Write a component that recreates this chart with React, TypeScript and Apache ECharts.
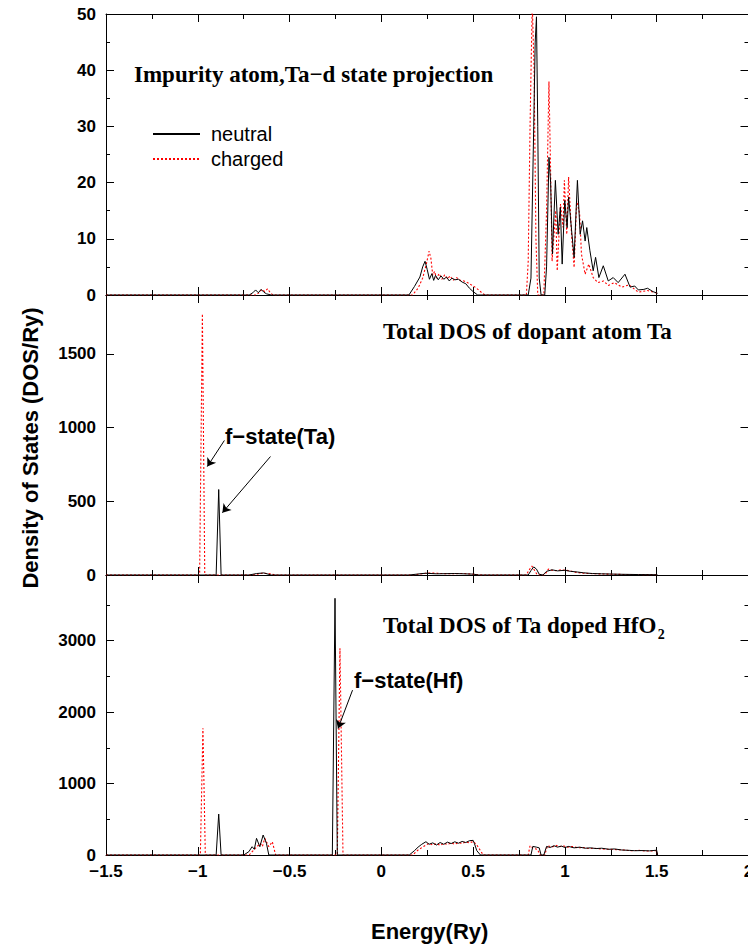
import React, { useEffect, useRef } from "react";
import * as echarts from "echarts";

// ---------- axis settings ----------
const energyMin = -1.5;
const energyMax = 2;
const energyInterval = 0.5;
const panelMax = [50, 1900, 3920];
const panelInterval = [10, 500, 1000];
const panelMinorSplit = [2, 0, 2];

// ---------- texts ----------
const panelTitles = ["Impurity atom,Ta\u2212d state projection", "Total DOS of dopant atom Ta", "Total DOS of Ta doped HfO"];
const titleSubscript = "2";
const seriesNames = ["neutral", "charged"];
const yTitle = "Density of States (DOS/Ry)";
const xTitle = "Energy(Ry)";

// ---------- data: panel 1, Ta-d projection ----------
const tadNeutral: [number, number][] = [
  [-1.5, 0], [-0.72, 0], [-0.7, 0.4], [-0.685, 0.9], [-0.67, 0.4], [-0.655, 1.0], [-0.64, 0.5], [-0.625, 0.2], [-0.6, 0],
  [0.15, 0], [0.18, 1.5], [0.21, 3.2], [0.225, 5.0], [0.238, 6.0], [0.25, 4.5], [0.262, 2.8], [0.275, 3.8], [0.285, 2.6],
  [0.295, 3.5], [0.31, 2.7], [0.325, 3.4], [0.34, 2.8], [0.355, 3.2], [0.37, 2.5], [0.385, 3.0], [0.4, 2.7], [0.42, 2.8],
  [0.44, 2.3], [0.46, 2.0], [0.48, 1.2], [0.5, 0.6], [0.525, 0],
  [0.8, 0], [0.815, 3], [0.83, 30], [0.838, 45], [0.845, 49.5], [0.852, 30], [0.86, 3], [0.87, 0], [0.89, 0], [0.9, 5],
  [0.913, 24.5], [0.922, 20], [0.932, 7.3], [0.948, 20.4], [0.963, 10.8], [0.975, 15.6], [0.985, 5.5], [0.999, 16.8],
  [1.012, 12], [1.02, 17.4], [1.036, 11.6], [1.05, 6.7], [1.068, 20.4], [1.083, 10.8], [1.096, 13.2], [1.11, 9.6],
  [1.119, 12], [1.136, 7.9], [1.154, 4.3], [1.167, 6.7], [1.185, 3.1], [1.209, 5.2], [1.236, 2.5], [1.263, 3.1],
  [1.29, 2.2], [1.327, 3.7], [1.355, 1.4], [1.38, 1.6], [1.4, 0.9], [1.43, 1.0], [1.45, 1.2], [1.48, 0.6], [1.505, 0.3],
];
const tadCharged: [number, number][] = [
  [-1.5, 0], [-0.68, 0], [-0.665, 0.5], [-0.65, 1.0], [-0.635, 0.6], [-0.62, 1.1], [-0.605, 0.4], [-0.59, 0],
  [0.17, 0], [0.2, 1.2], [0.225, 3.0], [0.245, 5.5], [0.26, 7.8], [0.27, 6.5], [0.28, 3.5], [0.29, 4.2], [0.3, 3.0],
  [0.315, 3.8], [0.33, 2.8], [0.345, 3.6], [0.36, 2.9], [0.375, 3.4], [0.39, 2.6], [0.41, 3.1], [0.43, 2.6], [0.45, 2.5],
  [0.47, 2.2], [0.49, 1.8], [0.51, 1.4], [0.53, 0.9], [0.55, 0.3], [0.565, 0],
  [0.79, 0], [0.8, 6], [0.81, 30], [0.822, 52], [0.832, 40], [0.842, 10], [0.852, 0], [0.885, 0], [0.9, 15], [0.913, 38],
  [0.922, 22], [0.93, 6], [0.95, 15], [0.958, 4.3], [0.976, 16.2], [0.99, 12], [0.997, 20.4], [1.01, 10.8], [1.02, 21],
  [1.036, 10.8], [1.05, 4.9], [1.064, 16.8], [1.08, 14.5], [1.09, 7.3], [1.11, 3.7], [1.13, 5.5], [1.154, 3.1],
  [1.18, 2.2], [1.21, 2.5], [1.236, 1.7], [1.27, 2.2], [1.31, 1.4], [1.35, 1.8], [1.4, 0.5], [1.45, 0.8], [1.505, 0.3],
];

// ---------- data: panel 2, total DOS of Ta ----------
const taNeutral: [number, number][] = [
  [-1.5, 0], [-0.9, 0], [-0.886, 580], [-0.873, 0], [-0.72, 0], [-0.68, 10], [-0.64, 14], [-0.6, 0],
  [0.15, 0], [0.24, 12], [0.3, 8], [0.4, 10], [0.5, 6], [0.53, 0],
  [0.8, 0], [0.815, 30], [0.83, 55], [0.845, 40], [0.86, 5], [0.88, 0], [0.9, 25], [0.93, 35], [0.96, 28], [1.0, 32],
  [1.03, 25], [1.07, 20], [1.1, 15], [1.15, 10], [1.2, 8], [1.3, 5], [1.4, 3], [1.5, 2], [1.505, 0],
];
const taCharged: [number, number][] = [
  [-1.5, 0], [-0.99, 0], [-0.975, 1772], [-0.962, 0], [-0.7, 0], [-0.65, 12], [-0.6, 8], [-0.58, 0],
  [0.17, 0], [0.26, 14], [0.35, 9], [0.45, 10], [0.55, 0],
  [0.79, 0], [0.805, 35], [0.82, 60], [0.835, 30], [0.85, 0], [0.89, 0], [0.91, 40], [0.94, 28], [0.98, 35], [1.02, 30],
  [1.06, 18], [1.1, 12], [1.2, 7], [1.3, 4], [1.4, 3], [1.5, 2], [1.505, 0],
];

// ---------- data: panel 3, total DOS of Ta doped HfO2 ----------
const hfNeutral: [number, number][] = [
  [-1.5, 0], [-0.9, 0], [-0.886, 573], [-0.873, 0], [-0.75, 0], [-0.722, 46], [-0.704, 116], [-0.692, 80], [-0.68, 233],
  [-0.662, 116], [-0.644, 280], [-0.626, 163], [-0.613, 0], [-0.267, 0], [-0.2525, 3594], [-0.24, 0],
  [0.152, 0], [0.18, 60], [0.2, 110], [0.22, 150], [0.243, 186], [0.26, 150], [0.28, 170], [0.3, 140], [0.32, 175],
  [0.34, 150], [0.36, 180], [0.38, 160], [0.4, 185], [0.42, 165], [0.44, 190], [0.46, 175], [0.48, 200], [0.5, 205],
  [0.507, 160], [0.52, 60], [0.54, 0],
  [0.815, 0], [0.825, 120], [0.845, 110], [0.86, 100], [0.87, 0], [0.885, 0], [0.9, 120], [0.92, 105], [0.94, 130],
  [0.96, 110], [0.98, 125], [1.0, 105], [1.02, 120], [1.05, 100], [1.08, 110], [1.11, 95], [1.14, 100], [1.17, 90],
  [1.2, 95], [1.24, 80], [1.27, 85], [1.31, 70], [1.35, 65], [1.38, 60], [1.42, 62], [1.46, 58], [1.5, 67], [1.505, 0],
];
const hfCharged: [number, number][] = [
  [-1.5, 0], [-0.986, 0], [-0.972, 1776], [-0.959, 0], [-0.72, 0], [-0.704, 46], [-0.68, 110], [-0.66, 163],
  [-0.648, 120], [-0.635, 233], [-0.613, 116], [-0.594, 186], [-0.576, 0], [-0.24, 0], [-0.2255, 2895], [-0.209, 0],
  [0.17, 0], [0.2, 70], [0.23, 120], [0.26, 165], [0.28, 140], [0.3, 160], [0.32, 135], [0.34, 165], [0.36, 145],
  [0.38, 170], [0.4, 150], [0.42, 175], [0.44, 160], [0.46, 185], [0.48, 170], [0.5, 190], [0.52, 140], [0.54, 60],
  [0.555, 0],
  [0.8, 0], [0.81, 130], [0.83, 90], [0.85, 80], [0.865, 0], [0.89, 0], [0.905, 130], [0.93, 110], [0.95, 135],
  [0.97, 115], [0.99, 130], [1.01, 110], [1.04, 120], [1.07, 100], [1.1, 105], [1.13, 90], [1.16, 95], [1.2, 85],
  [1.24, 80], [1.28, 75], [1.32, 70], [1.36, 60], [1.4, 65], [1.45, 55], [1.5, 60], [1.505, 0],
];

// ---------- annotation arrows (data coordinates: [start, end]) ----------
const taArrows: [number, number][][] = [
  [[-0.855, 913], [-0.948, 736]],
  [[-0.604, 804], [-0.866, 423]],
];
const hfArrows: [number, number][][] = [[[-0.157, 2308], [-0.236, 1772]]];
const annotationTexts = ["f\u2212state(Ta)", "f\u2212state(Hf)"];

const SANS = '"Liberation Sans", Arial, sans-serif';
const SERIF = '"Liberation Serif", "Times New Roman", serif';
const TITLE_FONT = `bold 23px ${SERIF}`;

const gridTops = [14, 295, 575];
const gridHeights = [281, 280, 280];

function minusFmt(v: number) {
  return v < 0 ? "\u2212" + String(Math.abs(v)) : String(v);
}

function measure(text: string, font: string, fallback: number) {
  try {
    const ctx = document.createElement("canvas").getContext("2d");
    if (!ctx) return fallback;
    ctx.font = font;
    return ctx.measureText(text).width;
  } catch (e) {
    return fallback;
  }
}

export default function App() {
  const ref = useRef<HTMLDivElement>(null);

  useEffect(() => {
    if (!ref.current) return;
    const chart = echarts.init(ref.current, undefined, { renderer: "svg" });

    const axisLine = { show: true, onZero: false, lineStyle: { color: "#000", width: 1 } };
    const tick = { show: true, inside: true, length: 8, lineStyle: { color: "#000", width: 1 } };

    const grids = gridTops.map((t, i) => ({
      left: 106,
      right: -0.5,
      top: t,
      height: gridHeights[i],
      containLabel: false,
      outerBoundsMode: "none",
    }));

    const xAxes: any[] = [];
    const yAxes: any[] = [];
    gridTops.forEach((_, i) => {
      ["bottom", "top"].forEach((pos) => {
        const labeled = pos === "bottom" && i === 2;
        xAxes.push({
          type: "value",
          gridIndex: i,
          position: pos,
          min: energyMin,
          max: energyMax,
          interval: energyInterval,
          axisLine,
          axisTick: tick,
          minorTick: { show: true, splitNumber: 2, length: 5, lineStyle: { color: "#000", width: 1 } },
          splitLine: { show: false },
          minorSplitLine: { show: false },
          axisLabel: labeled
            ? {
                show: true,
                formatter: minusFmt,
                fontFamily: SANS,
                fontWeight: "bold",
                fontSize: 17,
                lineHeight: 14,
                color: "#000",
                margin: 9,
                showMinLabel: true,
                showMaxLabel: true,
                hideOverlap: false,
              }
            : { show: false },
        });
      });
      ["left", "right"].forEach((pos) => {
        const labeled = pos === "left";
        yAxes.push({
          type: "value",
          gridIndex: i,
          position: pos,
          min: 0,
          max: panelMax[i],
          interval: panelInterval[i],
          axisLine,
          axisTick: tick,
          minorTick: {
            show: panelMinorSplit[i] > 0,
            splitNumber: panelMinorSplit[i] || 2,
            length: 4,
            lineStyle: { color: "#000", width: 1 },
          },
          splitLine: { show: false },
          minorSplitLine: { show: false },
          axisLabel: labeled
            ? {
                show: true,
                formatter: (v: number) => String(v),
                fontFamily: SANS,
                fontWeight: "bold",
                fontSize: 17,
                lineHeight: 12,
                color: "#000",
                margin: 10,
                showMinLabel: true,
                showMaxLabel: i === 0,
                hideOverlap: false,
              }
            : { show: false },
        });
      });
    });

    const panelData = [
      [tadNeutral, tadCharged],
      [taNeutral, taCharged],
      [hfNeutral, hfCharged],
    ];
    const arrowSets = [null, taArrows, hfArrows];

    const series: any[] = [];
    panelData.forEach((pair, i) => {
      pair.forEach((data, k) => {
        const arrows = k === 1 ? arrowSets[i] : null;
        series.push({
          type: "line",
          name: seriesNames[k],
          xAxisIndex: 2 * i,
          yAxisIndex: 2 * i,
          data,
          symbol: "none",
          showSymbol: false,
          clip: true,
          silent: true,
          z: k === 0 ? 3 : 2,
          itemStyle: { color: k === 0 ? "#000" : "#ff0000" },
          lineStyle:
            k === 0
              ? { color: "#000", width: 1 }
              : { color: "#ff0000", width: 1.1, type: [2, 2] },
          markLine: arrows
            ? {
                silent: true,
                symbol: ["none", "arrow"],
                symbolSize: 8,
                label: { show: false },
                lineStyle: { color: "#000", width: 1, type: "solid" },
                emphasis: { disabled: true },
                data: arrows.map((a) => [{ coord: a[0] }, { coord: a[1] }]),
              }
            : undefined,
        });
      });
    });

    const title3X = 383;
    const subX = title3X + measure(panelTitles[2], TITLE_FONT, 268) + 1;

    const graphic: any[] = [
      {
        type: "text",
        style: { x: 134, y: 74, text: panelTitles[0], font: TITLE_FONT, fill: "#000", verticalAlign: "middle" },
      },
      {
        type: "text",
        style: { x: 383, y: 331, text: panelTitles[1], font: TITLE_FONT, fill: "#000", verticalAlign: "middle" },
      },
      {
        type: "text",
        style: { x: title3X, y: 625, text: panelTitles[2], font: TITLE_FONT, fill: "#000", verticalAlign: "middle" },
      },
      {
        type: "text",
        style: { x: subX, y: 634, text: titleSubscript, font: `bold 14px ${SERIF}`, fill: "#000", verticalAlign: "middle" },
      },
      {
        type: "text",
        style: { x: 225, y: 436, text: annotationTexts[0], font: `bold 22px ${SANS}`, fill: "#000", verticalAlign: "middle" },
      },
      {
        type: "text",
        style: { x: 354, y: 680, text: annotationTexts[1], font: `bold 22px ${SANS}`, fill: "#000", verticalAlign: "middle" },
      },
      {
        type: "text",
        x: 30,
        y: 448,
        rotation: Math.PI / 2,
        style: { x: 0, y: 0, text: yTitle, font: `bold 22px ${SANS}`, fill: "#000", align: "center", verticalAlign: "middle" },
      },
      {
        type: "text",
        style: { x: 371, y: 931, text: xTitle, font: `bold 22px ${SANS}`, fill: "#000", verticalAlign: "middle" },
      },
    ];

    chart.setOption({
      animation: false,
      backgroundColor: "#fff",
      grid: grids,
      xAxis: xAxes,
      yAxis: yAxes,
      legend: {
        show: true,
        orient: "vertical",
        left: 152,
        top: 124,
        padding: 0,
        itemWidth: 47,
        itemHeight: 20,
        itemGap: 5,
        selectedMode: false,
        data: seriesNames,
        itemStyle: { opacity: 0 },
        textStyle: { fontFamily: SANS, fontSize: 20, color: "#000", padding: [0, 0, 0, 6] },
      },
      series,
      graphic,
    });

    return () => chart.dispose();
  }, []);

  return (
    <div
      ref={ref}
      style={{ position: "fixed", left: 0, top: 0, width: 748, height: 947, background: "#fff" }}
    />
  );
}
